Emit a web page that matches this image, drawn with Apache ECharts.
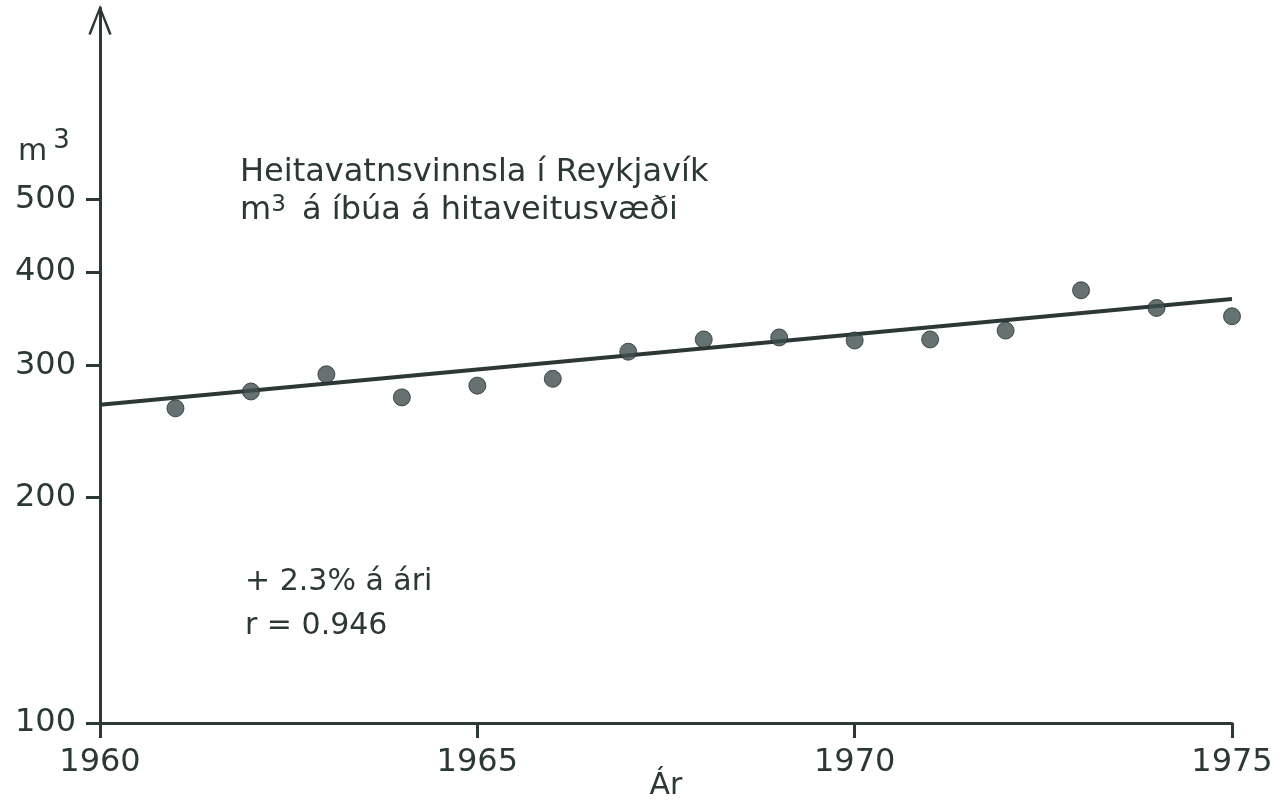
<!DOCTYPE html>
<html>
<head>
<meta charset="utf-8">
<script src="https://cdn.jsdelivr.net/npm/echarts@6/dist/echarts.min.js"></script>
<style>
  html, body { margin: 0; padding: 0; background: #fff; }
  #chart { width: 1285px; height: 807px; }
</style>
</head>
<body>
<div id="chart"></div>
<script>
// data (m3 per inhabitant, log scale)
const years = [1961, 1962, 1963, 1964, 1965, 1966, 1967, 1968, 1969, 1970, 1971, 1972, 1973, 1974, 1975];
const usage = [263, 277, 292, 272, 282, 288, 313, 325, 327, 324, 325, 334, 378, 358, 349];
// fitted trend line, +2.3% a year
const trendYears = [1960, 1975];
const trendValues = [266, 368];
const yTicks = [100, 200, 300, 400, 500];
const xTicks = [1960, 1965, 1970, 1975];

const ink = "#2c3836";
const font = "'DejaVu Sans', sans-serif";

let chart = echarts.init(document.getElementById("chart"));

let option = {
  backgroundColor: "#fff",
  animation: false,
  grid: {
    left: 100,
    right: 53,
    top: 8,
    bottom: 84,
    outerBoundsMode: "none",
  },
  xAxis: {
    type: "value",
    min: xTicks[0],
    max: xTicks[xTicks.length - 1],
    interval: 5,
    name: "Ár",
    nameLocation: "middle",
    nameGap: 48,
    nameMoveOverlap: false,
    nameTextStyle: { color: ink, fontSize: 30, fontFamily: font },
    splitLine: { show: false },
    axisLine: { lineStyle: { color: ink, width: 3 } },
    axisTick: { length: 15, lineStyle: { color: ink, width: 3 } },
    axisLabel: {
      color: ink,
      fontSize: 32,
      fontFamily: font,
      margin: 24,
      formatter: (v) => String(v),
      showMinLabel: true,
      showMaxLabel: true,
    },
  },
  yAxis: {
    type: "log",
    logBase: 10,
    min: 100,
    max: 900,
    splitLine: { show: false },
    minorTick: { show: false },
    axisLine: {
      show: true,
      // open arrow head like the hand drawn one
      symbol: ["none", "path://M0,30 L12,0 L24,30 L21.5,31 L12,6 L2.5,31 Z"],
      symbolSize: [24, 30],
      symbolOffset: [0, -12],
      lineStyle: { color: ink, width: 3 },
    },
    axisTick: {
      customValues: yTicks,
      length: 14,
      lineStyle: { color: ink, width: 3 },
    },
    axisLabel: {
      customValues: yTicks,
      color: ink,
      fontSize: 32,
      fontFamily: font,
      margin: 24,
    },
  },
  graphic: [
    {
      type: "text",
      left: 18,
      top: 128,
      style: {
        text: "m{s|3}",
        fill: ink,
        font: "30px " + font,
        rich: { s: { fontSize: 26, padding: [0, 0, 22, 6], fill: ink, fontFamily: font } },
      },
    },
    {
      type: "text",
      left: 240,
      top: 154,
      style: {
        text: "Heitavatnsvinnsla í Reykjavík\nm{s|3} á íbúa á hitaveitusvæði",
        fill: ink,
        font: "32px " + font,
        lineHeight: 38,
        rich: { s: { fontSize: 23, padding: [0, 6, 12, 0], fill: ink, fontFamily: font } },
      },
    },
    {
      type: "text",
      left: 245,
      top: 560,
      style: {
        text: "+ 2.3% á ári\nr = 0.946",
        fill: ink,
        font: "30px " + font,
        lineHeight: 44,
      },
    },
  ],
  series: [
    {
      name: "trend",
      type: "line",
      data: trendYears.map((y, i) => [y, trendValues[i]]),
      showSymbol: false,
      lineStyle: { color: ink, width: 4 },
      z: 2,
    },
    {
      name: "usage",
      type: "scatter",
      data: years.map((y, i) => [y, usage[i]]),
      symbol: "circle",
      symbolSize: 17,
      itemStyle: { color: "#3e4f4d", borderColor: "#27302f", borderWidth: 1 },
      z: 3,
    },
  ],
};
chart.setOption(option);
</script>
</body>
</html>
